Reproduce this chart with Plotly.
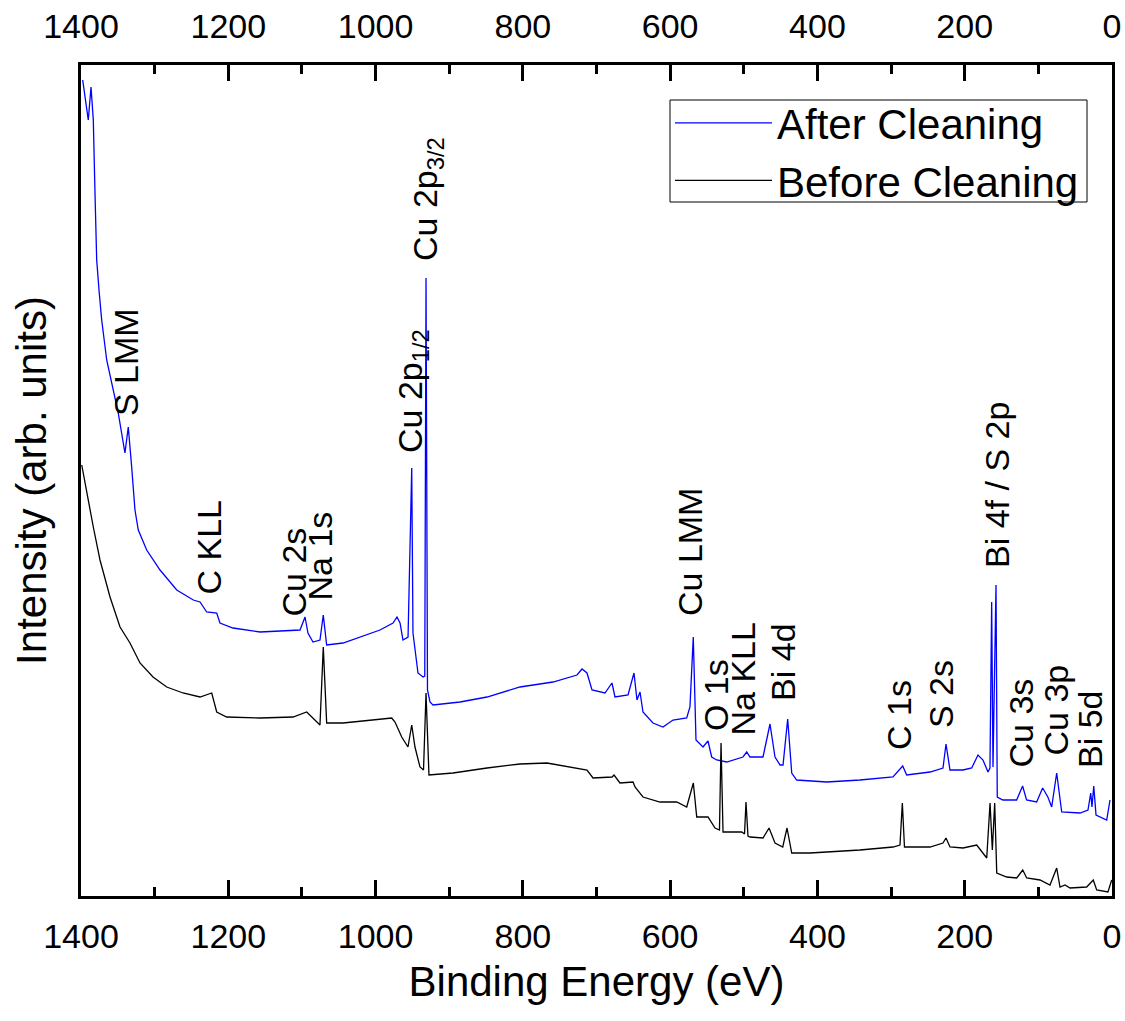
import plotly.graph_objects as go

# ---- After Cleaning (blue) : binding energy (eV), intensity (arb. units)
after_energy = [1397.7, 1390.1, 1386.4, 1383.3, 1381.0, 1378.7, 1375.2, 1371.9, 1365.1, 1358.3,
                1349.4, 1340.3, 1335.8, 1331.2, 1326.7, 1322.2, 1310.8, 1292.7, 1270.0, 1247.5,
                1238.4, 1229.3, 1215.7, 1211.3, 1193.6, 1156.9, 1102.6, 1095.8, 1091.8, 1085.0,
                1075.5, 1071.0, 1066.4, 1044.2, 1021.1, 994.0, 976.3, 970.9, 966.8, 962.8,
                955.9, 950.9, 949.2, 942.4, 935.6, 933.2, 931.5, 929.5, 926.1, 922.0,
                885.3, 848.7, 803.9, 759.1, 726.5, 719.7, 712.9, 706.1, 688.5, 679.0,
                674.9, 657.2, 649.1, 645.0, 640.9, 636.9, 623.3, 609.7, 596.1, 577.5,
                573.1, 568.6, 564.9, 555.4, 548.6, 543.6, 536.8, 523.2, 501.1, 496.0,
                491.6, 473.9, 464.4, 457.6, 450.8, 446.7, 440.4, 434.9, 428.2, 387.4,
                342.2, 297.4, 284.2, 278.8, 247.1, 229.5, 225.4, 220.0, 202.3, 190.5,
                182.0, 175.2, 168.4, 165.7, 163.4, 161.6, 157.5, 155.8, 148.1, 129.5,
                121.4, 116.0, 102.3, 94.2, 87.1, 81.9, 75.1, 68.3, 43.5, 32.6,
                28.9, 27.2, 24.8, 21.7, 7.2, 2.7]
after_intensity = [816, 776, 809, 776, 703, 636, 603, 576, 536, 513,
                   483, 443, 469, 429, 386, 366, 346, 326, 306, 296,
                   294, 284, 283, 273, 268, 264, 266, 279, 263, 254,
                   256, 281, 251, 253, 259, 266, 273, 279, 273, 256,
                   259, 428, 263, 223, 219, 220, 618, 206, 194, 191,
                   194, 199, 209, 214, 221, 227, 223, 206, 203, 213,
                   199, 201, 223, 196, 204, 184, 173, 169, 176, 178,
                   189, 259, 156, 149, 155, 139, 136, 134, 139, 144,
                   139, 139, 172, 139, 131, 131, 177, 123, 116, 114,
                   116, 119, 130, 121, 124, 128, 152, 126, 126, 128,
                   141, 136, 124, 128, 294, 129, 311, 99, 96, 96,
                   110, 96, 94, 108, 99, 89, 123, 84, 83, 86,
                   103, 89, 110, 81, 76, 96]

# ---- Before Cleaning (black)
before_energy = [1399.0, 1392.3, 1383.3, 1374.2, 1360.6, 1347.0, 1333.5, 1319.9, 1302.2, 1283.6,
                 1261.5, 1238.4, 1222.5, 1215.7, 1202.2, 1156.9, 1112.1, 1093.5, 1075.5, 1071.0,
                 1066.4, 1044.2, 998.5, 978.1, 973.6, 964.5, 956.0, 950.9, 946.5, 939.7,
                 934.9, 931.5, 927.5, 894.9, 848.7, 803.9, 767.2, 726.5, 712.9, 704.7,
                 678.9, 676.2, 668.1, 650.4, 647.7, 636.9, 613.8, 591.1, 577.5, 568.5,
                 563.9, 548.6, 539.1, 533.0, 530.9, 528.2, 502.8, 499.0, 497.0, 494.3,
                 491.5, 473.9, 465.7, 457.6, 447.1, 441.3, 434.9, 410.1, 342.2, 297.4,
                 287.9, 284.7, 281.8, 247.1, 229.5, 225.4, 220.0, 202.3, 183.7, 170.1,
                 165.6, 162.5, 159.3, 156.5, 143.0, 129.4, 121.2, 115.8, 97.8, 84.2,
                 75.1, 70.6, 63.8, 57.0, 34.4, 25.4, 20.8, 5.5, 0.4]
before_intensity = [431, 403, 369, 336, 299, 269, 253, 233, 219, 209,
                    203, 199, 203, 184, 179, 178, 179, 184, 171, 249,
                    173, 173, 176, 178, 174, 159, 149, 171, 149, 129,
                    126, 203, 121, 123, 128, 132, 133, 128, 126, 118,
                    119, 121, 113, 114, 109, 99, 94, 94, 89, 113,
                    79, 79, 68, 66, 153, 64, 64, 62, 94, 60,
                    59, 58, 68, 53, 49, 68, 43, 43, 46, 49,
                    51, 93, 49, 49, 53, 58, 49, 48, 51, 38,
                    93, 46, 93, 23, 19, 18, 26, 18, 16, 11,
                    28, 9, 11, 8, 9, 16, 6, 4, 16]

# ---- Peak labels: text, energy (eV), intensity at label bottom
label_text = ["S LMM", "C KLL", "Cu 2s", "Na 1s", "Cu 2p<sub>1/2</sub>", "Cu 2p<sub>3/2</sub>",
              "Cu LMM", "O 1s", "Na KLL", "Bi 4d", "C 1s", "S 2s", "Bi 4f / S 2p",
              "Cu 3s", "Cu 3p", "Bi 5d"]
label_energy = [1338.9, 1227.5, 1110.8, 1075.5, 950.5, 930.2,
                573.0, 537.7, 501.1, 446.8, 289.2, 232.2, 156.2,
                124.9, 77.4, 29.9]
label_intensity = [478, 299, 278, 294, 441, 633,
                   278, 163, 159, 193, 144, 166, 326,
                   126, 138, 126]

x_ticks = [1400, 1200, 1000, 800, 600, 400, 200, 0]

FONT = "Liberation Sans, Arial, sans-serif"

fig = go.Figure()
fig.add_trace(go.Scatter(x=after_energy, y=after_intensity, mode="lines",
                         line=dict(color="#0000FF", width=1.3), name="After Cleaning"))
fig.add_trace(go.Scatter(x=before_energy, y=before_intensity, mode="lines",
                         line=dict(color="#000000", width=1.3), name="Before Cleaning"))
# helper trace so the top axis is drawn
fig.add_trace(go.Scatter(x=[x_ticks[0], x_ticks[-1]], y=[0, 0], xaxis="x2", mode="lines",
                         line=dict(width=0), opacity=0, showlegend=False, hoverinfo="skip"))

for t, e, i in zip(label_text, label_energy, label_intensity):
    fig.add_annotation(x=e, y=i, text=t, textangle=-90, showarrow=False,
                       xanchor="center", yanchor="bottom",
                       font=dict(family=FONT, size=34, color="black"))

axis_common = dict(range=[1400, 0], tickvals=x_ticks, ticks="inside", ticklen=16, tickwidth=2.5,
                   tickcolor="black", showgrid=False, zeroline=False, automargin=False,
                   minor=dict(dtick=100, ticks="inside", ticklen=9, tickwidth=2.5, tickcolor="black"),
                   tickfont=dict(family=FONT, size=34, color="black"))

# legend frame (box around the legend)
fig.add_shape(type="rect", xref="paper", yref="paper",
              x0=(670 - 81) / 1031, x1=(1087 - 81) / 1031,
              y0=1 - (202 - 65) / 831, y1=1 - (100 - 65) / 831,
              line=dict(color="black", width=1), fillcolor="rgba(0,0,0,0)", layer="above")

fig.update_layout(
    width=1125, height=1021,
    margin=dict(l=81, r=13, t=65, b=125),
    paper_bgcolor="white", plot_bgcolor="white",
    showlegend=True,
    xaxis=dict(**axis_common, showline=True, linewidth=3, linecolor="black", mirror=True,
               ticklabelstandoff=8,
               title=dict(text="Binding Energy (eV)", font=dict(family=FONT, size=42, color="black"),
                          standoff=13)),
    xaxis2=dict(**axis_common, overlaying="x", side="top", showline=False, ticklabelstandoff=19),
    yaxis=dict(range=[0, 831], showticklabels=False, ticks="", showgrid=False, zeroline=False,
               showline=True, linewidth=3, linecolor="black", mirror=True, automargin=False,
               title=dict(text="Intensity (arb. units)", font=dict(family=FONT, size=42, color="black"),
                          standoff=19)),
    legend=dict(x=(670 - 81) / 1031, y=1 - (89 - 65) / 831, xanchor="left", yanchor="top",
                bgcolor="rgba(0,0,0,0)", borderwidth=0,
                font=dict(family=FONT, size=42, color="black"),
                itemwidth=97, tracegroupgap=0),
)

fig.write_html("out.html", config={"displayModeBar": False},
               post_script="document.body.style.margin='0';")
